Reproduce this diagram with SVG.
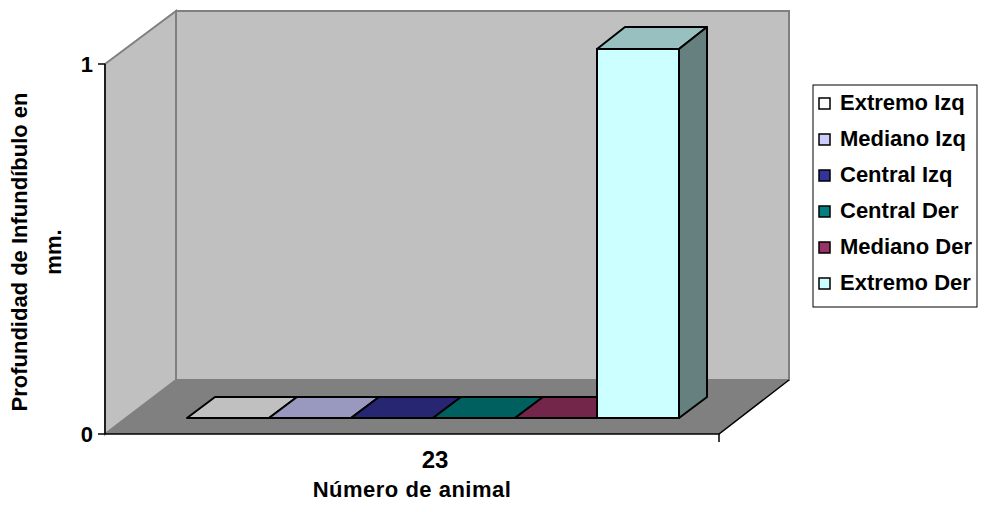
<svg xmlns="http://www.w3.org/2000/svg" width="986" height="512" viewBox="0 0 986 512">
<style>
text{font-family:"Liberation Sans",Arial,sans-serif;font-weight:bold;fill:#000}
.t{font-size:22px}
.wall{fill:#C0C0C0;stroke:#808080;stroke-width:2}
.bar{stroke:#000;stroke-width:2;stroke-linejoin:round}
.sw{stroke:#000;stroke-width:1.5}
</style>
<rect width="986" height="512" fill="#fff"/>
<g id="plot">
<polygon class="wall" points="176,11 789,11 789,380 176,380"/>
<polygon class="wall" points="105,64 176,11 176,380 105,434"/>
<polygon points="105,434 176,380 789,380 719,434" fill="#808080"/>
<polyline points="105,434 719,434 789,380" fill="none" stroke="#000" stroke-width="1.5"/>
<line x1="105" y1="64" x2="105" y2="434" stroke="#000" stroke-width="1.5"/>
<line x1="98" y1="64" x2="105" y2="64" stroke="#000" stroke-width="1.5"/>
<line x1="98" y1="434" x2="105" y2="434" stroke="#000" stroke-width="1.5"/>
<line x1="719" y1="434" x2="719" y2="442" stroke="#000" stroke-width="1.5"/>
</g>
<g id="bars">
<polygon class="bar" points="187,418 215,397 297,397 269,418" fill="#C0C0C0"/>
<polygon class="bar" points="269,418 297,397 379,397 351,418" fill="#9999C0"/>
<polygon class="bar" points="351,418 379,397 461,397 433,418" fill="#262673"/>
<polygon class="bar" points="433,418 461,397 543,397 515,418" fill="#006060"/>
<polygon class="bar" points="515,418 543,397 625,397 597,418" fill="#732649"/>
<polygon class="bar" points="597,49 679,49 679,418 597,418" fill="#CCFFFF"/>
<polygon class="bar" points="597,49 625,27 707,27 679,49" fill="#99C0C0"/>
<polygon class="bar" points="679,49 707,27 707,397 679,418" fill="#668080"/>
</g>
<g id="axis-labels">
<text class="t" x="93" y="72" text-anchor="end">1</text>
<text class="t" x="93" y="442" text-anchor="end">0</text>
<text x="435" y="468" font-size="24" text-anchor="middle">23</text>
<text class="t" x="412" y="497" text-anchor="middle" style="letter-spacing:0.5px">Número de animal</text>
<text class="t" transform="translate(27,252) rotate(-90)" text-anchor="middle">Profundidad de Infundíbulo en</text>
<text class="t" transform="translate(61,252) rotate(-90)" text-anchor="middle">mm.</text>
</g>
<g id="legend">
<rect x="813" y="85" width="164" height="222" fill="#fff" stroke="#000" stroke-width="1"/>
<rect class="sw" x="819" y="98" width="11" height="11" fill="#FFFFFF"/>
<text class="t" x="840" y="110">Extremo Izq</text>
<rect class="sw" x="819" y="134" width="11" height="11" fill="#CCCCFF"/>
<text class="t" x="840" y="146">Mediano Izq</text>
<rect class="sw" x="819" y="170" width="11" height="11" fill="#333399"/>
<text class="t" x="840" y="182">Central Izq</text>
<rect class="sw" x="819" y="206" width="11" height="11" fill="#008080"/>
<text class="t" x="840" y="218">Central Der</text>
<rect class="sw" x="819" y="242" width="11" height="11" fill="#993366"/>
<text class="t" x="840" y="254">Mediano Der</text>
<rect class="sw" x="819" y="278" width="11" height="11" fill="#CCFFFF"/>
<text class="t" x="840" y="290">Extremo Der</text>
</g>
</svg>
